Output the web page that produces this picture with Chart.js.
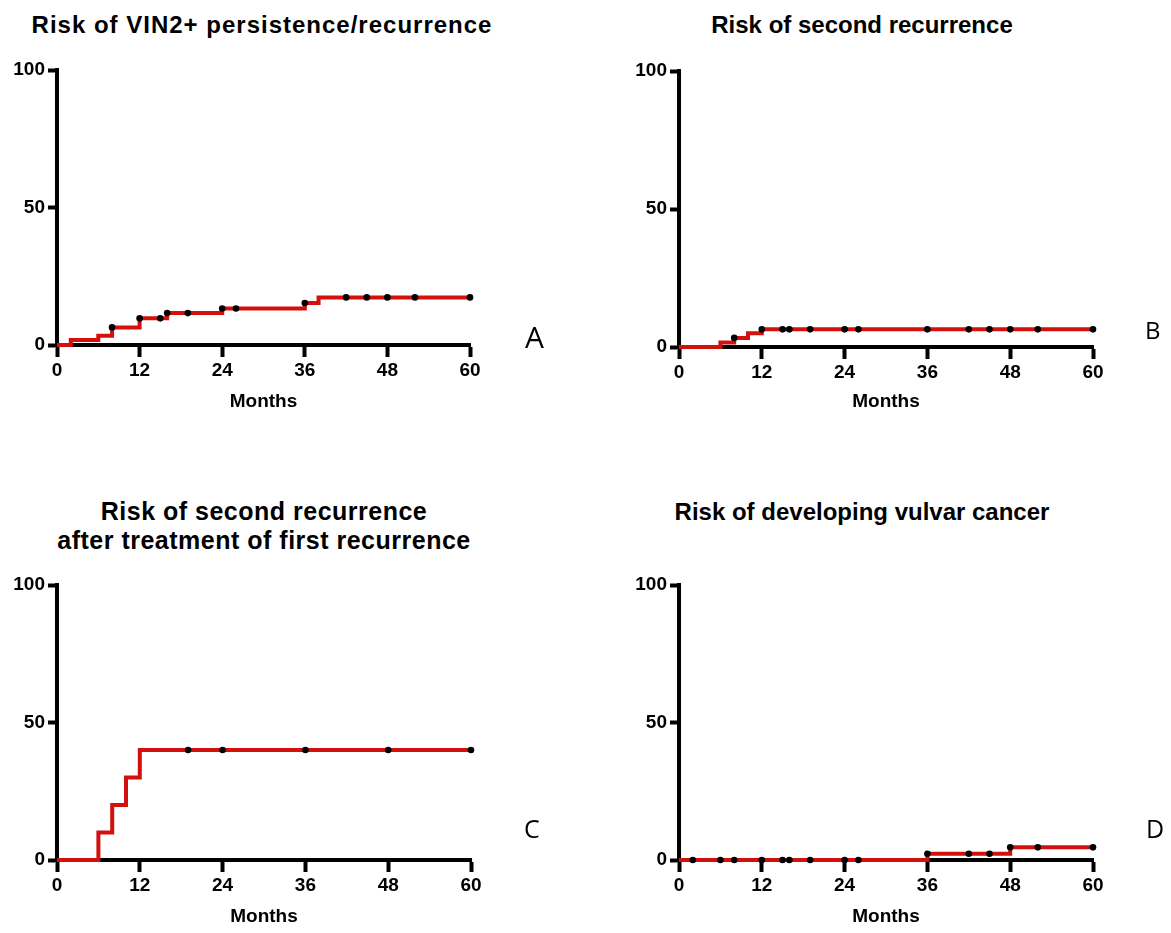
<!DOCTYPE html>
<html>
<head>
<meta charset="utf-8">
<script src="https://cdn.jsdelivr.net/npm/chart.js@4.4.1/dist/chart.umd.min.js"></script>
<style>
  body { margin: 0; background: #fff; width: 1171px; height: 933px; position: relative; overflow: hidden; }
  canvas { position: absolute; }
  .ttl { position: absolute; transform: translateX(-50%); white-space: nowrap; font-family: "Liberation Sans", Arial, sans-serif; font-weight: bold; font-size: 24px; line-height: 24px; color: #000; text-align: center; }
  .lt { position: absolute; font-family: "Open Sans", sans-serif; font-weight: 400; line-height: 1; color: #000; }
</style>
</head>
<body>
<div class="ttl" style="left:262px; top:13px; letter-spacing:1px;">Risk of VIN2+ persistence/recurrence</div>
<div class="ttl" style="left:862px; top:13px;">Risk of second recurrence</div>
<div class="ttl" style="left:264px; top:497px; line-height:29px; font-size:25px; letter-spacing:0.5px;">Risk of second recurrence<br>after treatment of first recurrence</div>
<div class="ttl" style="left:862px; top:500px;">Risk of developing vulvar cancer</div>

<canvas id="chartA"></canvas>
<canvas id="chartB"></canvas>
<canvas id="chartC"></canvas>
<canvas id="chartD"></canvas>

<div class="lt" style="left:525px; top:322px; font-size:30px;">A</div>
<div class="lt" style="left:1145px; top:318px; font-size:24px;">B</div>
<div class="lt" style="left:524px; top:816px; font-size:25px;">C</div>
<div class="lt" style="left:1146px; top:816px; font-size:25px;">D</div>

<script>
// Kaplan-Meier step points (month, cumulative risk %) and censor times
const monthsA = [0, 2, 6, 8, 12, 16, 24, 36, 38, 60];
const riskA = [0, 1.8, 3.4, 6.4, 9.7, 11.6, 13.3, 15.3, 17.3, 17.3];
const censorA = [8, 12, 15, 16, 19, 24, 26, 36, 42, 45, 48, 52, 60];

const monthsB = [0, 6, 8, 10, 12, 60];
const riskB = [0, 1.6, 3.3, 5.0, 6.4, 6.4];
const censorB = [8, 12, 15, 16, 19, 24, 26, 36, 42, 45, 48, 52, 60];

const monthsC = [0, 6, 8, 10, 12, 60];
const riskC = [0, 10, 20, 30, 40, 40];
const censorC = [19, 24, 36, 48, 60];

const monthsD = [0, 36, 48, 60];
const riskD = [0, 2.3, 4.6, 4.6];
const censorD = [2, 6, 8, 12, 15, 16, 19, 24, 26, 36, 42, 45, 48, 52, 60];

const xTicks = [0, 12, 24, 36, 48, 60];
const yTicks = [0, 50, 100];
const xLabel = 'Months';

Chart.defaults.color = '#000';
Chart.defaults.font.family = '"Liberation Sans", Arial, sans-serif';

const FONT = "Liberation Sans";
const RED = '#d2100c';

function riskAt(months, risk, t) {
  let v = 0;
  for (let i = 0; i < months.length; i++) {
    if (months[i] <= t) v = risk[i];
  }
  return v;
}

// box = plot area in page pixels, M = y of the "Months" line
function makePanel(id, months, risk, censor, box) {
  const yW = 50;
  const cx = box.L - 57, cy = box.T - 30;
  const W = box.R - cx + 60, H = box.M + 30 - cy;
  const cv = document.getElementById(id);
  cv.width = W; cv.height = H;
  cv.style.left = cx + 'px'; cv.style.top = cy + 'px';
  const titleLH = 22;

  const steps = months.map((m, i) => ({ x: m, y: risk[i] }));
  const marks = censor.map(t => ({ x: t, y: riskAt(months, risk, t) }));

  return new Chart(cv, {
    type: 'line',
    data: {
      datasets: [
        {
          label: 'censored',
          data: marks,
          showLine: false,
          pointRadius: 3.3,
          pointBackgroundColor: '#000',
          pointBorderWidth: 0,
          clip: false
        },
        {
          label: 'risk',
          data: steps,
          stepped: true,
          borderColor: RED,
          borderWidth: 4,
          pointRadius: 0,
          fill: false,
          clip: false
        }
      ]
    },
    options: {
      responsive: false,
      animation: false,
      events: [],
      layout: { padding: { left: box.L - cx - yW, right: cx + W - box.R, top: box.T - cy, bottom: 0 } },
      plugins: { legend: { display: false }, tooltip: { enabled: false } },
      scales: {
        x: {
          type: 'linear',
          min: 0, max: 60,
          afterFit: s => { s.height = cy + H - box.B; },
          afterBuildTicks: s => { s.ticks = xTicks.map(v => ({ value: v })); },
          border: { display: true, color: '#000', width: 4 },
          grid: { display: true, drawOnChartArea: false, drawTicks: true, tickLength: 12, tickWidth: 4, tickColor: '#000' },
          ticks: { padding: 2, font: { family: FONT, size: 19, weight: 'bold' }, color: '#000', maxRotation: 0 },
          title: {
            display: true, text: xLabel, color: '#000',
            font: { family: FONT, size: 19, weight: 'bold', lineHeight: titleLH / 19 },
            padding: { top: 0, bottom: cy + H - box.M - titleLH / 2 }
          }
        },
        y: {
          min: 0, max: 100,
          afterFit: s => { s.width = yW; },
          afterBuildTicks: s => { s.ticks = yTicks.map(v => ({ value: v })); },
          border: { display: true, color: '#000', width: 4 },
          grid: { display: true, drawOnChartArea: false, drawTicks: true, tickLength: 9, tickWidth: 4, tickColor: '#000' },
          ticks: { padding: 3, font: { family: FONT, size: 19, weight: 'bold' }, color: '#000' }
        }
      }
    }
  });
}

makePanel('chartA', monthsA, riskA, censorA, { L: 57, R: 470, T: 70, B: 345, M: 402 });
makePanel('chartB', monthsB, riskB, censorB, { L: 679, R: 1093, T: 71, B: 347, M: 402 });
makePanel('chartC', monthsC, riskC, censorC, { L: 57, R: 471, T: 585, B: 860, M: 917 });
makePanel('chartD', monthsD, riskD, censorD, { L: 679, R: 1093, T: 585, B: 860, M: 917 });
</script>
</body>
</html>
